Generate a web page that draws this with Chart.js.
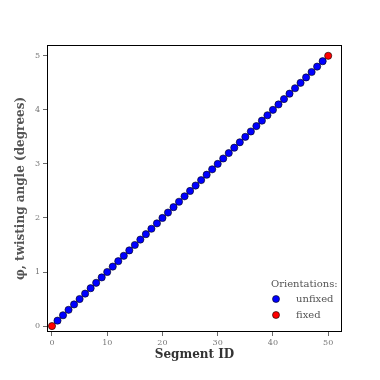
<!DOCTYPE html>
<html>
<head>
<meta charset="utf-8">
<script src="https://cdn.jsdelivr.net/npm/chart.js@4.4.0/dist/chart.umd.min.js"></script>
<style>
  html, body { margin: 0; padding: 0; background: #fff; }
  #box { width: 380px; height: 380px; }
</style>
</head>
<body>
<div id="box"><canvas id="chartCanvas" width="380" height="380"></canvas></div>
<script>
'use strict';

// segment ids and twisting angles
const unfixedIds = [1,2,3,4,5,6,7,8,9,10,11,12,13,14,15,16,17,18,19,20,21,22,23,24,25,
    26,27,28,29,30,31,32,33,34,35,36,37,38,39,40,41,42,43,44,45,46,47,48,49];
const unfixedAngles = [0.1,0.2,0.3,0.4,0.5,0.6,0.7,0.8,0.9,1.0,1.1,1.2,1.3,1.4,1.5,1.6,1.7,1.8,1.9,2.0,
    2.1,2.2,2.3,2.4,2.5,2.6,2.7,2.8,2.9,3.0,3.1,3.2,3.3,3.4,3.5,3.6,3.7,3.8,3.9,4.0,
    4.1,4.2,4.3,4.4,4.5,4.6,4.7,4.8,4.9];
const fixedIds = [0, 50];
const fixedAngles = [0.0, 5.0];

const xTicks = [0, 10, 20, 30, 40, 50];
const yTicks = [0, 1, 2, 3, 4, 5];
const legendTitle = "Orientations:";

const serif = "'DejaVu Serif', 'Liberation Serif', serif";

function toPoints(xs, ys){
    let pts = [];
    for(let i = 0; i < xs.length; i++){
        pts.push({x: xs[i], y: ys[i]});
    }
    return pts;
}

// frame round the plot area + legend inside bottom right
const framePlugin = {
    id: 'frame',
    afterDraw(chart){
        const ctx = chart.ctx;
        const a = chart.chartArea;
        ctx.save();
        ctx.strokeStyle = '#000';
        ctx.lineWidth = 1;
        ctx.strokeRect(a.left + 0.5, a.top + 0.5, a.right - a.left - 1, a.bottom - a.top - 1);

        // legend
        const ds = chart.data.datasets;
        ctx.font = "10px " + serif;
        ctx.fillStyle = '#555';
        ctx.textBaseline = 'middle';
        ctx.textAlign = 'left';
        ctx.fillText(legendTitle, 271, 284);
        for(let i = 0; i < ds.length; i++){
            const y = 299 + i * 16;
            ctx.beginPath();
            ctx.arc(276, y, 3.5, 0, Math.PI * 2);
            ctx.fillStyle = ds[i].backgroundColor;
            ctx.fill();
            ctx.lineWidth = 0.6;
            ctx.strokeStyle = '#000';
            ctx.stroke();
            ctx.fillStyle = '#555';
            ctx.fillText(ds[i].label, 296, y);
        }
        ctx.restore();
    }
};

const ctx = document.getElementById('chartCanvas').getContext('2d');
window.myChart = new Chart(ctx, {
    type: 'scatter',
    data: {
        datasets: [{
            label: 'unfixed',
            data: toPoints(unfixedIds, unfixedAngles),
            backgroundColor: '#0000ff',
            borderColor: '#000',
            borderWidth: 0.6,
            pointRadius: 3.6
        }, {
            label: 'fixed',
            data: toPoints(fixedIds, fixedAngles),
            backgroundColor: '#ff0000',
            borderColor: '#000',
            borderWidth: 0.6,
            pointRadius: 3.6
        }]
    },
    options: {
        responsive: false,
        animation: false,
        layout: { padding: { left: 0, top: 45, right: 38, bottom: 0 } },
        plugins: {
            legend: { display: false },
            tooltip: { enabled: false }
        },
        scales: {
            x: {
                type: 'linear',
                min: -0.9,
                max: 52.5,
                afterBuildTicks: (s) => { s.ticks = xTicks.map(v => ({value: v})); },
                afterFit: (s) => { s.height = 48; },
                grid: { drawOnChartArea: false, tickLength: 4, color: '#444', lineWidth: 0.8 },
                border: { display: false },
                ticks: { color: '#777', font: { family: serif, size: 8 }, padding: 2, maxRotation: 0 },
                title: {
                    display: true,
                    text: 'Segment ID',
                    color: '#333',
                    font: { family: serif, size: 12, weight: 'bold' },
                    padding: { top: 0, bottom: 18 }
                }
            },
            y: {
                type: 'linear',
                min: -0.11,
                max: 5.2,
                afterBuildTicks: (s) => { s.ticks = yTicks.map(v => ({value: v})); },
                afterFit: (s) => { s.width = 47; },
                grid: { drawOnChartArea: false, tickLength: 4, color: '#444', lineWidth: 0.8 },
                border: { display: false },
                ticks: { color: '#777', font: { family: serif, size: 8 }, padding: 3 },
                title: {
                    display: true,
                    text: '\u03c6, twisting angle (degrees)',
                    color: '#555',
                    font: { family: serif, size: 12, weight: 'bold' },
                    padding: { top: 14, bottom: 2 }
                }
            }
        }
    },
    plugins: [framePlugin]
});
</script>
</body>
</html>
